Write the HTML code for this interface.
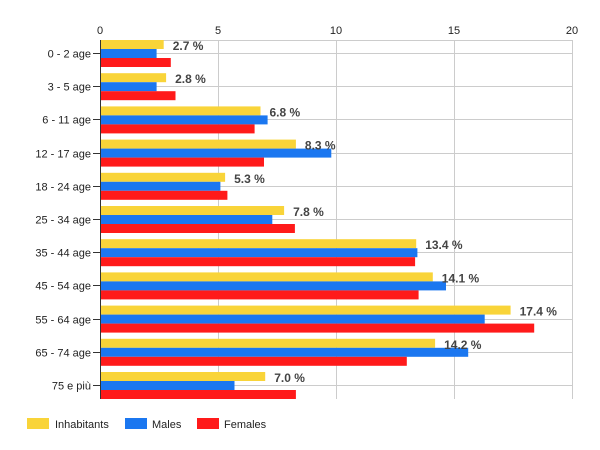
<!DOCTYPE html>
<html><head><meta charset="utf-8"><style>
html,body{margin:0;padding:0;background:#fff;}
svg{display:block;font-family:"Liberation Sans",Arial,sans-serif;}
</style></head><body>
<svg width="600" height="450" xmlns="http://www.w3.org/2000/svg">
<g stroke="#cccccc" stroke-width="1">
<line x1="218.5" y1="40" x2="218.5" y2="399"/>
<line x1="336.5" y1="40" x2="336.5" y2="399"/>
<line x1="454.5" y1="40" x2="454.5" y2="399"/>
<line x1="572.5" y1="40" x2="572.5" y2="399"/>
<line x1="100" y1="40.5" x2="572" y2="40.5"/>
<line x1="100" y1="53.5" x2="572" y2="53.5"/>
<line x1="100" y1="86.5" x2="572" y2="86.5"/>
<line x1="100" y1="119.5" x2="572" y2="119.5"/>
<line x1="100" y1="153.5" x2="572" y2="153.5"/>
<line x1="100" y1="186.5" x2="572" y2="186.5"/>
<line x1="100" y1="219.5" x2="572" y2="219.5"/>
<line x1="100" y1="252.5" x2="572" y2="252.5"/>
<line x1="100" y1="285.5" x2="572" y2="285.5"/>
<line x1="100" y1="319.5" x2="572" y2="319.5"/>
<line x1="100" y1="352.5" x2="572" y2="352.5"/>
<line x1="100" y1="385.5" x2="572" y2="385.5"/>
</g>
<g>
<rect x="100" y="40" width="63.7" height="9" fill="#f9d439"/><rect x="100" y="49" width="56.6" height="9" fill="#1b77f0"/><rect x="100" y="58" width="70.8" height="9" fill="#ff1a1a"/>
<rect x="100" y="73.2" width="66.1" height="9" fill="#f9d439"/><rect x="100" y="82.2" width="56.6" height="9" fill="#1b77f0"/><rect x="100" y="91.2" width="75.5" height="9" fill="#ff1a1a"/>
<rect x="100" y="106.4" width="160.5" height="9" fill="#f9d439"/><rect x="100" y="115.4" width="167.6" height="9" fill="#1b77f0"/><rect x="100" y="124.4" width="154.6" height="9" fill="#ff1a1a"/>
<rect x="100" y="139.6" width="195.9" height="9" fill="#f9d439"/><rect x="100" y="148.6" width="231.3" height="9" fill="#1b77f0"/><rect x="100" y="157.6" width="164" height="9" fill="#ff1a1a"/>
<rect x="100" y="172.8" width="125.1" height="9" fill="#f9d439"/><rect x="100" y="181.8" width="120.4" height="9" fill="#1b77f0"/><rect x="100" y="190.8" width="127.4" height="9" fill="#ff1a1a"/>
<rect x="100" y="206" width="184.1" height="9" fill="#f9d439"/><rect x="100" y="215" width="172.3" height="9" fill="#1b77f0"/><rect x="100" y="224" width="194.9" height="9" fill="#ff1a1a"/>
<rect x="100" y="239.2" width="316.2" height="9" fill="#f9d439"/><rect x="100" y="248.2" width="317.4" height="9" fill="#1b77f0"/><rect x="100" y="257.2" width="315.1" height="9" fill="#ff1a1a"/>
<rect x="100" y="272.4" width="332.8" height="9" fill="#f9d439"/><rect x="100" y="281.4" width="346" height="9" fill="#1b77f0"/><rect x="100" y="290.4" width="318.6" height="9" fill="#ff1a1a"/>
<rect x="100" y="305.6" width="410.6" height="9" fill="#f9d439"/><rect x="100" y="314.6" width="384.7" height="9" fill="#1b77f0"/><rect x="100" y="323.6" width="434.2" height="9" fill="#ff1a1a"/>
<rect x="100" y="338.8" width="335.1" height="9" fill="#f9d439"/><rect x="100" y="347.8" width="368.2" height="9" fill="#1b77f0"/><rect x="100" y="356.8" width="306.8" height="9" fill="#ff1a1a"/>
<rect x="100" y="372" width="165.2" height="9" fill="#f9d439"/><rect x="100" y="381" width="134.5" height="9" fill="#1b77f0"/><rect x="100" y="390" width="195.9" height="9" fill="#ff1a1a"/>
</g>
<g font-size="12" font-weight="bold" fill="#444">
<text x="172.7" y="50">2.7 %</text>
<text x="175.1" y="83.2">2.8 %</text>
<text x="269.5" y="116.4">6.8 %</text>
<text x="304.9" y="149.6">8.3 %</text>
<text x="234.1" y="182.8">5.3 %</text>
<text x="293.1" y="216">7.8 %</text>
<text x="425.2" y="249.2">13.4 %</text>
<text x="441.8" y="282.4">14.1 %</text>
<text x="519.6" y="315.6">17.4 %</text>
<text x="444.1" y="348.8">14.2 %</text>
<text x="274.2" y="382">7.0 %</text>
</g>
<g stroke="#333" stroke-width="1">
<line x1="100.5" y1="40" x2="100.5" y2="399"/>
<line x1="93" y1="53.5" x2="100" y2="53.5"/>
<line x1="93" y1="86.5" x2="100" y2="86.5"/>
<line x1="93" y1="119.5" x2="100" y2="119.5"/>
<line x1="93" y1="153.5" x2="100" y2="153.5"/>
<line x1="93" y1="186.5" x2="100" y2="186.5"/>
<line x1="93" y1="219.5" x2="100" y2="219.5"/>
<line x1="93" y1="252.5" x2="100" y2="252.5"/>
<line x1="93" y1="285.5" x2="100" y2="285.5"/>
<line x1="93" y1="319.5" x2="100" y2="319.5"/>
<line x1="93" y1="352.5" x2="100" y2="352.5"/>
<line x1="93" y1="385.5" x2="100" y2="385.5"/>
</g>
<g font-size="11" fill="#222" text-anchor="end">
<text x="91" y="57.5">0 - 2 age</text>
<text x="91" y="90.5">3 - 5 age</text>
<text x="91" y="123.5">6 - 11 age</text>
<text x="91" y="157.5">12 - 17 age</text>
<text x="91" y="190.5">18 - 24 age</text>
<text x="91" y="223.5">25 - 34 age</text>
<text x="91" y="256.5">35 - 44 age</text>
<text x="91" y="289.5">45 - 54 age</text>
<text x="91" y="323.5">55 - 64 age</text>
<text x="91" y="356.5">65 - 74 age</text>
<text x="91" y="389.5">75 e più</text>
</g>
<g font-size="11" fill="#222" text-anchor="middle">
<text x="100" y="34">0</text><text x="218" y="34">5</text><text x="336" y="34">10</text><text x="454" y="34">15</text><text x="572" y="34">20</text>
</g>
<g font-size="11" fill="#222">
<rect x="27" y="418" width="22" height="11" fill="#f9d439"/><text x="55" y="428">Inhabitants</text>
<rect x="125" y="418" width="22" height="11" fill="#1b77f0"/><text x="152" y="428">Males</text>
<rect x="197" y="418" width="22" height="11" fill="#ff1a1a"/><text x="224" y="428">Females</text>
</g>
</svg>
</body></html>
